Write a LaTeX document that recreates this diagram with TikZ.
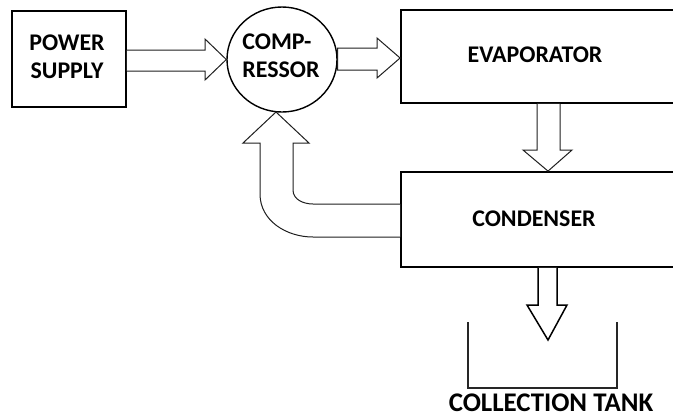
\documentclass[tikz,border=0pt]{standalone}
\usepackage{fontspec}
\setmainfont{Carlito}
\usetikzlibrary{calc,shapes.geometric}
\begin{document}
\begin{tikzpicture}[x=1bp,y=-1bp,
  box/.style={draw=black, line width=1.8bp, rectangle, inner sep=0pt},
  lbl/.style={font=\bfseries\fontsize{24}{28}\selectfont, inner sep=0pt, text=black},
  barrow/.style={draw=black!88, line width=1bp, fill=white, line join=miter},
]
\clip (0,0) rectangle (673,418);
\fill[white] (0,0) rectangle (673,418);

% blocks
\node[box, minimum width=114bp, minimum height=96bp] (ps) at (69,59) {};
\node[draw=black, line width=1.4bp, ellipse, minimum width=110bp, minimum height=105bp, inner sep=0pt] (comp) at (282,59.5) {};
\node[box, minimum width=299bp, minimum height=93bp] (evap) at (550.5,56.5) {};
\node[box, minimum width=299bp, minimum height=95bp] (cond) at (550.5,219.5) {};
\coordinate (tankL) at (468,322);
\coordinate (tankR) at (617,322);
\draw[black!85, line width=1.2bp] (tankL) -- (468,388) -- (617,388) -- (tankR);

% labels
\node[lbl, align=center] (pst) at (67,57) {POWER\\SUPPLY};
\node[lbl, align=left] (compt) at (281,56) {COMP-\\RESSOR};
\node[lbl] (evapt) at (535,55) {EVAPORATOR};
\node[lbl] (condt) at (534,219) {CONDENSER};
\node[lbl, font=\bfseries\fontsize{27}{32}\selectfont] (tankt) at (551,402.5) {COLLECTION TANK};

% connectors
\draw[barrow] (ps.east |- 0,50) -- (205,50) -- (205,39) -- (comp.west) -- (205,80) -- (205,71) -- (ps.east |- 0,71);
\draw[barrow] (comp.east |- 0,48) -- (377,48) -- (377,38) -- (evap.west |- 0,58) -- (377,78) -- (377,70) -- (comp.east |- 0,70) -- cycle;
\draw[barrow] (537,0 |- evap.south) -- (537,150) -- (523,150) -- (548,0 |- cond.north) -- (572,150) -- (560,150) -- (560,0 |- evap.south);
\draw[barrow, draw=black, line width=1.5bp] (538,0 |- cond.south) -- (538,305) -- (527,305) -- (548,340) -- (567,305) -- (557,305) -- (557,0 |- cond.south);
\draw[barrow] (cond.west |- 0,237) -- (313,237) to[out=180,in=-90] (260,194) -- (260,143) -- (243,143) -- (276,112) -- (309,143) -- (293,143) -- (293,190) to[out=-90,in=180] (313,204) -- (cond.west |- 0,204);
\end{tikzpicture}
\end{document}
